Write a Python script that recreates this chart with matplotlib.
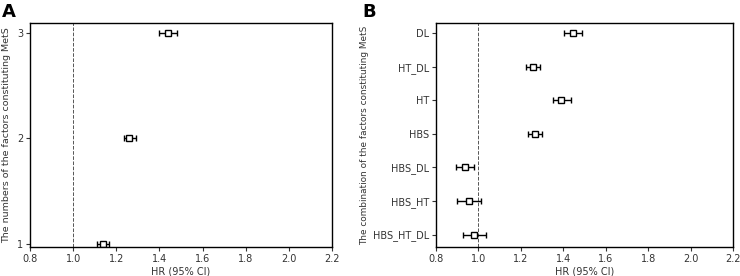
import matplotlib
matplotlib.use("Agg")
import matplotlib.pyplot as plt

# Panel A: number of MetS factors
countLabels = ["1", "2", "3"]
countHR = [1.14, 1.26, 1.44]
countLow = [1.112, 1.236, 1.40]
countHigh = [1.165, 1.29, 1.48]

# Panel B: combination of MetS factors
comboLabels = ["DL", "HT_DL", "HT", "HBS", "HBS_DL", "HBS_HT", "HBS_HT_DL"]
comboHR = [1.444, 1.256, 1.391, 1.267, 0.935, 0.956, 0.981]
comboLow = [1.402, 1.223, 1.35, 1.234, 0.894, 0.90, 0.929]
comboHigh = [1.49, 1.292, 1.435, 1.30, 0.978, 1.014, 1.034]

xticks = [0.8, 1.0, 1.2, 1.4, 1.6, 1.8, 2.0, 2.2]

plt.rcParams['font.family'] = ['DejaVu Sans']
plt.rcParams['font.size'] = 7

fig = plt.figure(figsize=(7.4, 2.76), dpi=100)
axA = fig.add_axes([30 / 740, 29 / 276, 302 / 740, 224 / 276])
axB = fig.add_axes([436 / 740, 29 / 276, 297 / 740, 224 / 276])


def forest(ax, ypos, hr, lo, hi):
    err = [[h - l for h, l in zip(hr, lo)], [u - h for h, u in zip(hr, hi)]]
    ax.errorbar(hr, ypos, xerr=err, fmt='s', mfc='white', mec='black', ms=5,
                mew=1, ecolor='black', elinewidth=1, capsize=2.5, capthick=1)
    ax.axvline(1.0, color='#555555', ls='--', lw=0.7, zorder=0)
    ax.set_xlim(0.8, 2.2)
    ax.set_xticks(xticks)
    ax.set_xticklabels([f"{t:.1f}" for t in xticks])
    ax.set_xlabel("HR (95% CI)", color='#333333', labelpad=2)
    ax.tick_params(colors='#333333', length=3, width=0.8, pad=2)
    for s in ax.spines.values():
        s.set_linewidth(1)


ya = [1, 2, 3]
forest(axA, ya, countHR, countLow, countHigh)
axA.set_yticks(ya)
axA.set_yticklabels(countLabels)
axA.set_ylim(0.97, 3.095)
axA.set_ylabel("The numbers of the factors constituting MetS", color='#333333',
               fontsize=6.8, labelpad=4)

yb = list(range(len(comboLabels)))[::-1]
forest(axB, yb, comboHR, comboLow, comboHigh)
axB.set_yticks(yb)
axB.set_yticklabels(comboLabels)
axB.set_ylim(-0.37, 6.3)
axB.set_ylabel("The combination of the factors constituting MetS", color='#333333',
               fontsize=6.4, labelpad=3)

fig.text(2 / 740, 1 - 3 / 276, "A", fontsize=13, fontweight='bold', va='top', ha='left')
fig.text(362 / 740, 1 - 3 / 276, "B", fontsize=13, fontweight='bold', va='top', ha='left')

fig.savefig("out.png", dpi=100)
